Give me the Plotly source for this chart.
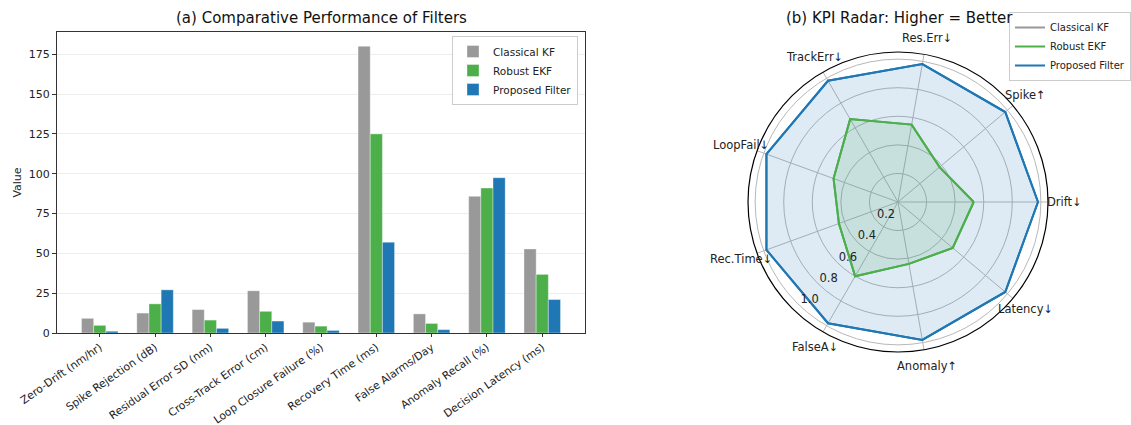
import math
import plotly.graph_objects as go

categories = ["Zero-Drift (nm/hr)", "Spike Rejection (dB)", "Residual Error SD (nm)",
              "Cross-Track Error (cm)", "Loop Closure Failure (%)", "Recovery Time (ms)",
              "False Alarms/Day", "Anomaly Recall (%)", "Decision Latency (ms)"]
classical_kf = [9.2, 12.5, 14.7, 26.5, 6.8, 180, 12.0, 85.8, 52.8]
robust_ekf = [4.8, 18.3, 8.1, 13.6, 4.3, 125, 6.0, 91.0, 36.8]
proposed = [1.1, 27.1, 2.9, 7.5, 1.6, 57, 2.1, 97.5, 21.0]

radar_labels = ["Drift↓", "Spike↑", "Res.Err↓", "TrackErr↓", "LoopFail↓",
                "Rec.Time↓", "FalseA↓", "Anomaly↑", "Latency↓"]
radar_classical = [0, 0, 0, 0, 0, 0, 0, 0, 0]
radar_robust = [0.53, 0.38, 0.55, 0.67, 0.48, 0.44, 0.60, 0.44, 0.50]
radar_proposed = [0.98, 0.98, 0.98, 0.98, 0.98, 0.98, 0.98, 0.98, 0.98]
radial_ticks = [0.2, 0.4, 0.6, 0.8, 1.0]

series_names = ["Classical KF", "Robust EKF", "Proposed Filter"]
bar_colors = ["#999999", "#4daf4a", "#1f77b4"]
fill_colors = ["rgba(153,153,153,0.15)", "rgba(77,175,74,0.15)", "rgba(31,119,180,0.15)"]
line_colors = ["#999999", "#4daf4a", "#1f77b4"]

FONT = "DejaVu Sans"
fig = go.Figure()

for name, vals, col in zip(series_names, [classical_kf, robust_ekf, proposed], bar_colors):
    fig.add_trace(go.Bar(
        x=list(range(len(categories))), y=vals, name=name,
        marker=dict(color=col, line=dict(color="rgba(255,255,255,0.6)", width=0.6)),
        legend="legend", xaxis="x", yaxis="y",
    ))

n = len(radar_labels)
angles = [i * 360.0 / n for i in range(n)]

def closed(a):
    return list(a) + [a[0]]

for name, vals, lc, fc in zip(series_names, [radar_classical, radar_robust, radar_proposed],
                              line_colors, fill_colors):
    fig.add_trace(go.Scatterpolar(
        r=closed(vals), theta=closed(angles), mode="lines", fill="toself",
        fillcolor=fc, line=dict(color=lc, width=2), showlegend=False, hoverinfo="skip",
        subplot="polar",
    ))
for name, vals, lc in zip(series_names, [radar_classical, radar_robust, radar_proposed], line_colors):
    fig.add_trace(go.Scatterpolar(
        r=closed(vals), theta=closed(angles), mode="lines", name=name,
        line=dict(color=lc, width=2), legend="legend2", subplot="polar",
    ))

R_MAX = 1.05
# radial tick labels along the ~228 degree direction
fig.add_trace(go.Scatterpolar(
    r=[t - 0.075 for t in radial_ticks], theta=[228] * len(radial_ticks), mode="text",
    text=[f"{t:.1f}" for t in radial_ticks], textposition="middle center",
    cliponaxis=False, showlegend=False, hoverinfo="skip",
    textfont=dict(family=FONT, size=11.5, color="#222"), subplot="polar",
))

W, H = 1131, 425
ml, mr, mt, mb = 57, 0, 32, 40
pw, ph = W - ml - mr, H - mt - mb

def px_x(x):
    return (x - ml) / pw

def px_y(y):
    return (H - mb - y) / ph

cx, cy, R = 898, 202, 150

annotations = [
    dict(text="(a) Comparative Performance of Filters", x=px_x(321), y=px_y(18),
         xref="paper", yref="paper", showarrow=False, xanchor="center", yanchor="middle",
         font=dict(size=15, family=FONT, color="#111")),
    dict(text="(b) KPI Radar: Higher = Better", x=px_x(899), y=px_y(18),
         xref="paper", yref="paper", showarrow=False, xanchor="center", yanchor="middle",
         font=dict(size=15, family=FONT, color="#111")),
]
# category labels centred just outside the frame (matplotlib-style)
label_r = R * 1.113
for lab, ang in zip(radar_labels, angles):
    a = math.radians(ang)
    annotations.append(dict(
        text=lab, x=px_x(cx + label_r * math.cos(a)), y=px_y(cy - label_r * math.sin(a)),
        xref="paper", yref="paper", showarrow=False, xanchor="center", yanchor="middle",
        font=dict(size=11.5, family=FONT, color="#222")))

fig.update_layout(
    width=W, height=H, margin=dict(l=ml, r=mr, t=mt, b=mb),
    paper_bgcolor="white", plot_bgcolor="white",
    font=dict(family=FONT, size=11, color="#222222"),
    barmode="group", bargap=0.34, bargroupgap=0,
    xaxis=dict(domain=[0, px_x(585)], range=[-0.773, 8.773],
               tickmode="array", tickvals=list(range(len(categories))), ticktext=categories,
               tickangle=-35, ticks="outside", ticklen=3, tickcolor="#333",
               showline=True, linecolor="#333", linewidth=1, mirror=True,
               showgrid=False, zeroline=False, automargin=False,
               tickfont=dict(size=10.8, family=FONT)),
    yaxis=dict(domain=[px_y(333), 1], range=[0, 189], tickvals=[0, 25, 50, 75, 100, 125, 150, 175],
               ticks="outside", ticklen=4, tickcolor="#333",
               showline=True, linecolor="#333", linewidth=1, mirror=True,
               showgrid=True, gridcolor="rgba(0,0,0,0.07)", zeroline=False, automargin=False,
               title=dict(text="Value", font=dict(size=11, family=FONT), standoff=4),
               tickfont=dict(size=11, family=FONT)),
    polar=dict(
        domain=dict(x=[px_x(cx - R), px_x(cx + R)], y=[px_y(cy + R), px_y(cy - R)]),
        bgcolor="white",
        radialaxis=dict(range=[0, R_MAX], tickvals=radial_ticks, showticklabels=False,
                        showline=False, ticks="", gridcolor="#b8b8b8", gridwidth=1),
        angularaxis=dict(direction="counterclockwise", rotation=0, thetaunit="degrees",
                         tickmode="array", tickvals=angles, showticklabels=False,
                         showline=True, linecolor="black", linewidth=1.2, ticks="",
                         gridcolor="#b8b8b8", gridwidth=1),
    ),
    legend=dict(x=px_x(578), xanchor="right", y=px_y(36), yanchor="top",
                bgcolor="white", bordercolor="#cccccc", borderwidth=1,
                font=dict(size=10.5, family=FONT), tracegroupgap=0, itemwidth=30),
    legend2=dict(x=1.0, xanchor="right", y=px_y(12), yanchor="top",
                 bgcolor="white", bordercolor="#cccccc", borderwidth=1,
                 font=dict(size=10, family=FONT), tracegroupgap=0, itemwidth=30),
    annotations=annotations,
)

fig.write_html("out.html", config={"displayModeBar": False},
               post_script="document.body.style.margin='0px';")
